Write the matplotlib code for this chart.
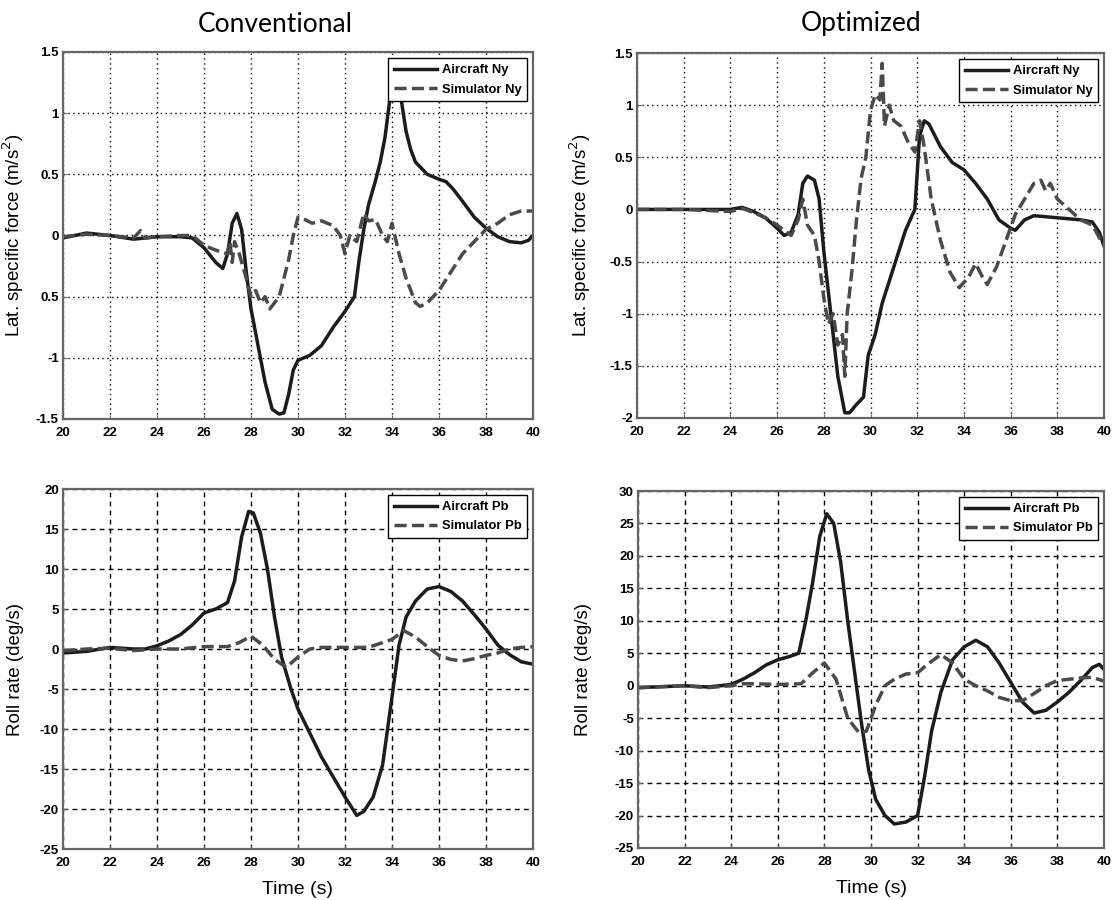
import numpy as np
import matplotlib
matplotlib.use('Agg')
import matplotlib.pyplot as plt

# ---- datos ----
# Conventional, fuerza especifica lateral
t_conv_ny_ac = [20, 20.5, 21, 22, 23, 24, 25, 25.5, 26, 26.5, 26.8, 27.0, 27.2, 27.4, 27.6, 27.8,
                28.0, 28.3, 28.6, 28.9, 29.2, 29.4, 29.6, 29.8, 30.0, 30.5, 31, 31.5, 32, 32.4,
                32.6, 32.8, 33.0, 33.3, 33.5, 33.7, 33.9, 34.1, 34.4, 34.6, 34.8, 35.0, 35.5,
                36.0, 36.3, 36.6, 37.0, 37.5, 38.0, 38.5, 39.0, 39.5, 39.8, 40.0]
conv_ny_ac = [-0.02, 0.0, 0.02, 0.0, -0.03, -0.01, -0.01, -0.02, -0.1, -0.22, -0.27, -0.15, 0.1,
              0.18, 0.05, -0.3, -0.6, -0.9, -1.2, -1.42, -1.46, -1.45, -1.3, -1.1, -1.02, -0.98,
              -0.9, -0.75, -0.62, -0.5, -0.2, 0.05, 0.25, 0.45, 0.6, 0.8, 1.1, 1.25, 1.1, 0.85,
              0.7, 0.6, 0.5, 0.46, 0.44, 0.38, 0.28, 0.15, 0.06, -0.01, -0.05, -0.06, -0.04, 0.0]

t_conv_ny_sim = [20, 21, 22, 23, 23.3, 23.5, 24, 25, 25.5, 26, 26.5, 27.0, 27.1, 27.2, 27.3, 27.5,
                 27.8, 28.0, 28.2, 28.4, 28.6, 28.8, 29.0, 29.2, 29.4, 29.6, 29.8, 30.0, 30.3,
                 30.6, 31, 31.5, 31.8, 32.0, 32.2, 32.5, 32.8, 33.0, 33.3, 33.6, 33.8, 34.0, 34.3,
                 34.6, 35.0, 35.2, 35.5, 36.0, 36.5, 37.0, 37.5, 38.0, 38.5, 39.0, 39.5, 40.0]
conv_ny_sim = [-0.01, 0.01, 0.0, -0.02, 0.04, -0.02, -0.01, 0.0, 0.0, -0.08, -0.12, -0.15, -0.05,
               -0.22, -0.05, -0.15, -0.35, -0.5, -0.45, -0.55, -0.5, -0.6, -0.55, -0.5, -0.35,
               -0.2, 0.0, 0.15, 0.13, 0.1, 0.12, 0.08, 0.0, -0.15, 0.0, -0.05, 0.18, 0.12, 0.13,
               0.0, -0.05, 0.1, -0.15, -0.35, -0.55, -0.58, -0.55, -0.45, -0.3, -0.15, -0.05,
               0.05, 0.1, 0.17, 0.2, 0.2]

# Optimized, fuerza especifica lateral
t_opt_ny_ac = [20, 22, 24, 24.5, 25, 25.5, 26, 26.3, 26.6, 26.9, 27.1, 27.3, 27.6, 27.8, 28.0,
               28.3, 28.6, 28.9, 29.1, 29.4, 29.7, 29.9, 30.2, 30.5, 31.0, 31.5, 31.9, 32.1,
               32.3, 32.5, 33.0, 33.5, 34.0, 34.5, 35.0, 35.5, 36.0, 36.2, 36.6, 37.0, 37.5,
               38.0, 39.0, 39.5, 39.8, 40.0]
opt_ny_ac = [0.0, 0.0, 0.0, 0.02, -0.02, -0.08, -0.18, -0.25, -0.22, -0.05, 0.25, 0.32, 0.28, 0.1,
             -0.4, -1.0, -1.6, -1.95, -1.95, -1.87, -1.8, -1.4, -1.2, -0.9, -0.55, -0.2, 0.0, 0.7,
             0.85, 0.82, 0.6, 0.45, 0.38, 0.25, 0.1, -0.1, -0.18, -0.2, -0.1, -0.06, -0.07,
             -0.08, -0.1, -0.12, -0.22, -0.35]

t_opt_ny_sim = [20, 22, 24, 24.5, 25, 25.5, 26, 26.3, 26.6, 26.9, 27.1, 27.3, 27.6, 27.8, 28.0,
                28.2, 28.4, 28.6, 28.8, 28.9, 29.0, 29.2, 29.4, 29.6, 29.8, 30.0, 30.2, 30.4,
                30.5, 30.6, 30.8, 31.0, 31.3, 31.6, 31.9, 32.1, 32.3, 32.6, 33.0, 33.4, 33.8,
                34.2, 34.5, 34.8, 35.0, 35.4, 35.8, 36.2, 36.6, 37.0, 37.3, 37.5, 37.7, 38.0,
                38.5, 39.0, 39.5, 40.0]
opt_ny_sim = [0.0, 0.0, -0.02, 0.01, -0.03, -0.08, -0.15, -0.2, -0.25, -0.1, 0.1, -0.15, -0.25,
              -0.5, -0.85, -1.1, -1.0, -1.3, -1.2, -1.6, -1.0, -0.6, -0.1, 0.3, 0.5, 0.95, 1.1,
              1.05, 1.4, 0.8, 1.0, 0.85, 0.8, 0.65, 0.55, 0.85, 0.6, 0.1, -0.3, -0.6, -0.75,
              -0.65, -0.52, -0.65, -0.72, -0.55, -0.3, -0.05, 0.1, 0.25, 0.28, 0.18, 0.25, 0.1,
              0.0, -0.1, -0.15, -0.35]

# Conventional, velocidad de alabeo
t_conv_pb_ac = [20, 21, 22, 23, 23.5, 24, 24.5, 25, 25.5, 26, 26.5, 27, 27.3, 27.6, 27.9, 28.1,
                28.4, 28.7, 29.0, 29.3, 29.7, 30.0, 30.5, 31, 31.5, 32.0, 32.5, 32.8, 33.2,
                33.6, 34.0, 34.3, 34.6, 35.0, 35.5, 36.0, 36.5, 37.0, 37.5, 38.0, 38.5, 39.0,
                39.5, 40.0]
conv_pb_ac = [-0.5, -0.3, 0.2, 0.0, 0.0, 0.4, 1.0, 1.8, 3.0, 4.5, 5.0, 5.8, 8.5, 14, 17.2, 17.0,
              14.5, 10, 4, -1, -5, -7.5, -10.5, -13.5, -16.0, -18.5, -20.8, -20.3, -18.5, -14.5,
              -6, 0.5, 4, 6, 7.5, 7.8, 7.2, 6.0, 4.3, 2.5, 0.5, -0.7, -1.6, -1.9]

t_conv_pb_sim = [20, 21, 22, 23, 24, 25, 26, 27, 27.5, 28.0, 28.5, 29.0, 29.5, 30.0, 30.5, 31, 32,
                 33, 34, 34.5, 35, 35.5, 36, 36.5, 37, 37.5, 38, 38.5, 39, 39.5, 40]
conv_pb_sim = [-0.2, 0.0, 0.1, -0.2, 0.0, 0.0, 0.3, 0.3, 0.8, 1.6, 0.5, -1.3, -2.3, -1.0, 0.0,
               0.2, 0.2, 0.2, 1.2, 2.3, 1.5, 0.3, -0.8, -1.3, -1.5, -1.2, -0.8, -0.5, 0.0, 0.2, 0.3]

# Optimized, velocidad de alabeo
t_opt_pb_ac = [20, 22, 23, 24, 24.5, 25, 25.5, 26, 26.5, 26.9, 27.2, 27.5, 27.8, 28.1, 28.4,
               28.7, 29.0, 29.3, 29.6, 29.9, 30.2, 30.6, 31.0, 31.5, 32.0, 32.3, 32.6, 33.0,
               33.5, 34.0, 34.5, 35.0, 35.5, 36.0, 36.5, 37.0, 37.5, 38.0, 38.5, 39.0, 39.5,
               39.8, 40.0]
opt_pb_ac = [-0.3, 0.0, -0.2, 0.2, 1.0, 2.0, 3.2, 4.0, 4.5, 5.0, 10, 16, 23, 26.5, 25, 19, 10, 2,
             -6, -13, -17.5, -20, -21.3, -21, -20, -14, -7, -1, 4, 6, 7, 6, 3.5, 0.5, -2.5,
             -4.2, -3.8, -2.5, -1.0, 0.8, 2.8, 3.3, 2.5]

t_opt_pb_sim = [20, 22, 23, 24, 24.5, 25, 26, 27, 27.5, 28.0, 28.5, 29.0, 29.5, 29.8, 30.2, 30.6,
                31.0, 31.5, 32.0, 32.5, 33.0, 33.5, 34.0, 34.5, 35.0, 35.5, 36.0, 36.5, 37.0,
                37.5, 38.0, 38.5, 39.0, 39.5, 40.0]
opt_pb_sim = [-0.3, 0.0, -0.3, 0.0, 0.3, 0.3, 0.2, 0.3, 2.0, 3.5, 1.0, -5, -7.3, -7, -3, 0, 1.0,
              1.8, 2.0, 3.5, 4.8, 3.5, 1.0, 0.0, -0.8, -1.8, -2.3, -2.3, -1.2, 0.0, 0.8, 1.0,
              1.2, 1.3, 0.7]

xticks = np.arange(20, 41, 2)
yt_conv_ny = [-1.5, -1, -0.5, 0, 0.5, 1, 1.5]
yl_conv_ny = ['-1.5', '-1', '0.5', '0', '0.5', '1', '1.5']   # asi aparece en la figura
yt_opt_ny = [-2, -1.5, -1, -0.5, 0, 0.5, 1, 1.5]
yl_opt_ny = ['-2', '-1.5', '-1', '-0.5', '0', '0.5', '1', '1.5']
yt_conv_pb = list(range(-25, 21, 5))
yt_opt_pb = list(range(-25, 31, 5))

# ---- figura ----
fig = plt.figure(figsize=(11.15, 9), dpi=100)

W, H = 1115, 900
def caja(x0, y0, x1, y1):
    return [x0 / W, 1 - y1 / H, (x1 - x0) / W, (y1 - y0) / H]

ax1 = fig.add_axes(caja(63, 52, 533, 419))
ax2 = fig.add_axes(caja(637, 53, 1104, 418))
ax3 = fig.add_axes(caja(63, 489, 533, 849))
ax4 = fig.add_axes(caja(638, 491, 1104, 848))

c_sol = '#1c1c1c'
c_das = '#4a4a4a'

def panel(ax, ta, ya, ts, ys, nombre, yt, yl, ylab, grid_dash):
    ax.plot(ta, ya, color=c_sol, lw=2.5, label='Aircraft ' + nombre)
    ax.plot(ts, ys, color=c_das, lw=2.5, dashes=(3.5, 1.5), label='Simulator ' + nombre)
    ax.set_xlim(20, 40)
    ax.set_ylim(yt[0], yt[-1])
    ax.set_xticks(xticks)
    ax.set_xticklabels([str(v) for v in xticks])
    ax.set_yticks(yt)
    ax.set_yticklabels(yl)
    ax.grid(True, color='black', lw=1.0, dashes=grid_dash)
    ax.set_axisbelow(True)
    for s in ax.spines.values():
        s.set_color('#666666')
        s.set_linewidth(1.6)
    ax.tick_params(direction='in', length=3, width=0.8, colors='#666666', labelcolor='black')
    ax.tick_params(axis='x', pad=6)
    ax.tick_params(axis='y', pad=3)
    for lab in ax.get_xticklabels() + ax.get_yticklabels():
        lab.set_fontweight('bold')
        lab.set_fontsize(9.5)
        lab.set_family('Liberation Sans')
    ax.set_ylabel(ylab, fontsize=13.5, family='Liberation Sans')
    leg = ax.legend(loc='upper right', bbox_to_anchor=(0.988, 0.983), fancybox=False,
                    framealpha=1, edgecolor='black', handlelength=3.3, handletextpad=0.35,
                    borderpad=0.45, labelspacing=0.55, borderaxespad=0,
                    prop={'family': 'Liberation Sans', 'weight': 'bold', 'size': 9.4})
    leg.get_frame().set_linewidth(1.0)

panel(ax1, t_conv_ny_ac, conv_ny_ac, t_conv_ny_sim, conv_ny_sim, 'Ny', yt_conv_ny, yl_conv_ny,
      'Lat. specific force (m/s$^2$)', (1, 2.5))
panel(ax2, t_opt_ny_ac, opt_ny_ac, t_opt_ny_sim, opt_ny_sim, 'Ny', yt_opt_ny, yl_opt_ny,
      'Lat. specific force (m/s$^2$)', (1, 2.5))
panel(ax3, t_conv_pb_ac, conv_pb_ac, t_conv_pb_sim, conv_pb_sim, 'Pb', yt_conv_pb,
      [str(v) for v in yt_conv_pb], 'Roll rate (deg/s)', (3.5, 3))
panel(ax4, t_opt_pb_ac, opt_pb_ac, t_opt_pb_sim, opt_pb_sim, 'Pb', yt_opt_pb,
      [str(v) for v in yt_opt_pb], 'Roll rate (deg/s)', (3.5, 3))

# posicion de las etiquetas del eje y
for ax, xpx in [(ax1, 26), (ax2, 593), (ax3, 24), (ax4, 592)]:
    x0 = ax.get_position().x0 * W
    ax.yaxis.set_label_coords(-(x0 - xpx) / (ax.get_position().width * W), 0.5)

for ax in (ax3, ax4):
    ax.set_xlabel('Time (s)', fontsize=14, family='Liberation Sans')
    ax.xaxis.set_label_coords(0.5, -(881 - 849) / (ax.get_position().height * H))

fig.text(275 / W, 1 - 24 / H, 'Conventional', ha='center', va='center', fontsize=19,
         family='Lato')
fig.text(861 / W, 1 - 24 / H, 'Optimized', ha='center', va='center', fontsize=19,
         family='Lato')

fig.savefig('out.png', dpi=100, facecolor='white')
